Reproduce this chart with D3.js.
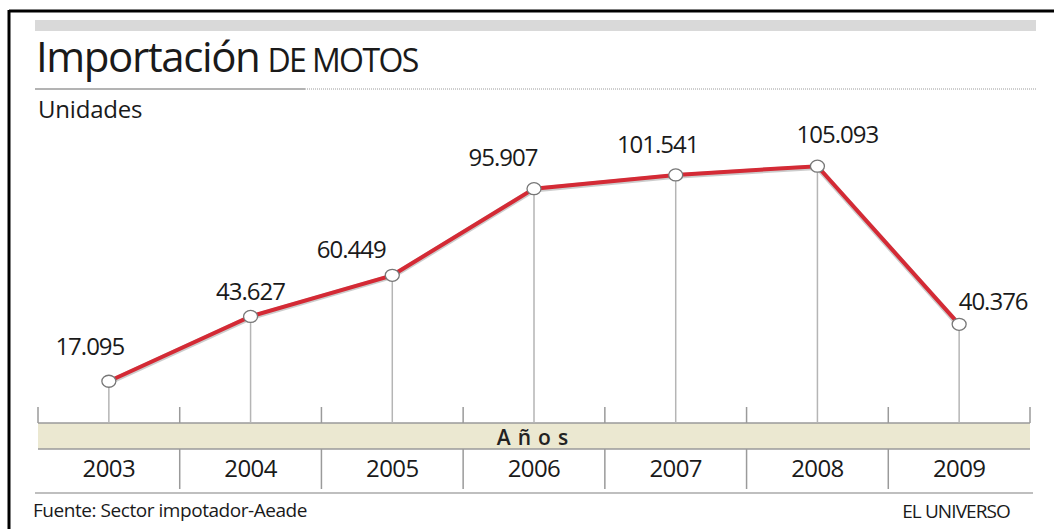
<!DOCTYPE html>
<html><head><meta charset="utf-8">
<script src="https://cdn.jsdelivr.net/npm/d3@7"></script>
<style>
html,body{margin:0;padding:0;background:#fff;}
text{font-family:"Open Sans","Noto Sans",sans-serif;}
</style></head>
<body><svg id="c" width="1054" height="529"></svg>
<script>
const years = ["2003","2004","2005","2006","2007","2008","2009"];
const values = [17095, 43627, 60449, 95907, 101541, 105093, 40376];
const valueLabels = ["17.095","43.627","60.449","95.907","101.541","105.093","40.376"];
// label placement relative to point (layout only)
const labelDx = [-19, 0, -41, -31, -18, 20, 34];
const labelDy = [-26, -16, -17, -23, -22, -23, -14];

const svg = d3.select("#c");
const W = 1054, H = 529;

// frame
svg.append("line").attr("x1",9).attr("x2",W).attr("y1",11).attr("y2",11).attr("stroke","#000").attr("stroke-width",3);
svg.append("line").attr("x1",9).attr("x2",9).attr("y1",10).attr("y2",H).attr("stroke","#000").attr("stroke-width",3);

// gray header bar
svg.append("rect").attr("x",35).attr("y",20).attr("width",1001).attr("height",11).attr("fill","#d9d9d9");

// title
const t = svg.append("text").attr("x",36).attr("y",72).attr("fill","#1a1a1a");
t.append("tspan").attr("font-size",42).attr("letter-spacing",-1.4).text("Importación");
t.append("tspan").attr("font-size",32).attr("letter-spacing",-1.6).attr("dx",8).text("DE MOTOS");

// separator
svg.append("line").attr("x1",35).attr("x2",305).attr("y1",89).attr("y2",89).attr("stroke","#9a9a9a").attr("stroke-width",1.5);
svg.append("line").attr("x1",305).attr("x2",1036).attr("y1",89).attr("y2",89).attr("stroke","#9a9a9a").attr("stroke-width",1).attr("stroke-dasharray","1,1");

svg.append("text").attr("x",38).attr("y",118).attr("font-size",24).attr("letter-spacing",-0.2).attr("fill","#1a1a1a").text("Unidades");

// scales
const x = d3.scaleBand().domain(years).range([38,1030]);
const y = d3.scaleLinear().domain([0,120000]).range([423,129.8]);
const cx = d => x(d) + x.bandwidth()/2;

// band
const bandTop = 423, bandBot = 449;
svg.append("rect").attr("x",38).attr("y",bandTop).attr("width",992).attr("height",bandBot-bandTop).attr("fill","#ebe8d1");
svg.append("line").attr("x1",38).attr("x2",1030).attr("y1",bandTop).attr("y2",bandTop).attr("stroke","#9a9a9a").attr("stroke-width",1.5);
svg.append("line").attr("x1",38).attr("x2",1030).attr("y1",bandBot).attr("y2",bandBot).attr("stroke","#9a9a9a").attr("stroke-width",1.5);

// ticks above band (band boundaries)
const bounds = years.map(d => x(d)).concat([x(years[years.length-1]) + x.bandwidth()]);
svg.selectAll(".tk").data(bounds).join("line").attr("class","tk")
  .attr("x1",d=>d).attr("x2",d=>d).attr("y1",407).attr("y2",bandTop)
  .attr("stroke","#9a9a9a").attr("stroke-width",1.5);
// dividers below band
svg.selectAll(".dv").data(bounds.slice(1,-1)).join("line").attr("class","dv")
  .attr("x1",d=>d).attr("x2",d=>d).attr("y1",bandBot).attr("y2",489)
  .attr("stroke","#9a9a9a").attr("stroke-width",1.5);

svg.append("text").attr("x",536).attr("y",445).attr("text-anchor","middle").attr("font-size",21)
  .attr("font-weight",600).attr("letter-spacing",7).attr("fill","#222").text("Años");

// year labels
svg.selectAll(".yr").data(years).join("text").attr("class","yr")
  .attr("x",d=>cx(d)).attr("y",477).attr("text-anchor","middle").attr("font-size",24)
  .attr("letter-spacing",-0.6).attr("fill","#1a1a1a").text(d=>d);

// bottom line
svg.append("line").attr("x1",35).attr("x2",1033).attr("y1",493).attr("y2",493).attr("stroke","#aaa").attr("stroke-width",1.5);

// footer
svg.append("text").attr("x",33).attr("y",517).attr("font-size",19).attr("letter-spacing",-0.45).attr("fill","#1a1a1a").text("Fuente: Sector impotador-Aeade");
svg.append("text").attr("x",1010).attr("y",518).attr("text-anchor","end").attr("font-size",19).attr("letter-spacing",-0.9).attr("fill","#1a1a1a").text("EL UNIVERSO");

// data
const pts = years.map((d,i)=>({year:d, v:values[i], label:valueLabels[i], dx:labelDx[i], dy:labelDy[i]}));

// drop lines
svg.selectAll(".drop").data(pts).join("line").attr("class","drop")
  .attr("x1",d=>cx(d.year)).attr("x2",d=>cx(d.year)).attr("y1",d=>y(d.v)).attr("y2",bandTop)
  .attr("stroke","#b5b5b5").attr("stroke-width",1.5);

const line = d3.line().x(d=>cx(d.year)).y(d=>y(d.v));
svg.append("path").datum(pts).attr("d",line).attr("fill","none").attr("stroke","#9a9a9a").attr("stroke-width",5.5).attr("opacity",0.5).attr("transform","translate(0,1)");
svg.append("path").datum(pts).attr("d",line).attr("fill","none").attr("stroke","#d42a35").attr("stroke-width",4);

svg.selectAll(".pt").data(pts).join("ellipse").attr("class","pt")
  .attr("cx",d=>cx(d.year)).attr("cy",d=>y(d.v)).attr("rx",7).attr("ry",6)
  .attr("fill","#fff").attr("stroke","#777").attr("stroke-width",1.3);

svg.selectAll(".vl").data(pts).join("text").attr("class","vl")
  .attr("x",d=>cx(d.year)+d.dx).attr("y",d=>y(d.v)+d.dy).attr("text-anchor","middle")
  .attr("font-size",24).attr("letter-spacing",-1).attr("fill","#1a1a1a").text(d=>d.label);
</script></body></html>
